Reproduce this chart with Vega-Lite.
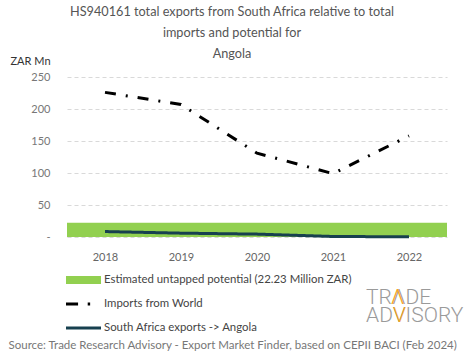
{
  "$schema": "https://vega.github.io/schema/vega-lite/v6.json",
  "autosize": "none",
  "width": 380,
  "height": 160,
  "padding": {"left": 67, "top": 77, "right": 18, "bottom": 122},
  "background": "white",
  "config": {
    "font": "Lato",
    "view": {"stroke": null},
    "axisY": {
      "titleAngle": 0,
      "titleAlign": "left",
      "titleBaseline": "middle",
      "titleAnchor": "end",
      "titleX": -57,
      "titleY": -16,
      "titleFontSize": 11,
      "titleFontWeight": "normal",
      "titleColor": "#333333",
      "labelOverlap": false,
      "labelFontSize": 11,
      "labelColor": "#777777",
      "labelPadding": 17,
      "domain": false,
      "ticks": false,
      "gridColor": "#d9d9d9",
      "gridDash": [4, 3],
      "gridWidth": 1
    }
  },
  "title": {
    "text": ["HS940161 total exports from South Africa relative to total", "imports and potential for", "Angola"],
    "fontSize": 12.7,
    "fontWeight": "normal",
    "color": "#555555",
    "lineHeight": 21,
    "anchor": "middle",
    "dx": -25,
    "dy": 20,
    "offset": 14
  },
  "datasets": {
    "series": [
      {"year": "2018", "series": "Imports from World", "value": 226},
      {"year": "2019", "series": "Imports from World", "value": 207},
      {"year": "2020", "series": "Imports from World", "value": 131},
      {"year": "2021", "series": "Imports from World", "value": 99},
      {"year": "2022", "series": "Imports from World", "value": 158},
      {"year": "2018", "series": "South Africa exports -> Angola", "value": 8.5},
      {"year": "2019", "series": "South Africa exports -> Angola", "value": 6},
      {"year": "2020", "series": "South Africa exports -> Angola", "value": 4.5},
      {"year": "2021", "series": "South Africa exports -> Angola", "value": 0.8},
      {"year": "2022", "series": "South Africa exports -> Angola", "value": 0.3}
    ],
    "potential": [
      {"series": "Estimated untapped potential (22.23 Million ZAR)", "low": 0, "high": 22.23}
    ],
    "logo": [
      {"year": "2022", "line": "TRΛDE", "accent": "Λ", "pos": -96},
      {"year": "2022", "line": "ADVISORY", "accent": "V", "pos": -124}
    ]
  },
  "layer": [
    {
      "data": {"name": "potential"},
      "mark": {"type": "rect"},
      "encoding": {
        "y": {"field": "low", "type": "quantitative", "scale": {"domain": [0, 250], "nice": false},
          "axis": {"title": "ZAR Mn", "values": [0, 50, 100, 150, 200, 250], "tickCount": 6, "labelExpr": "datum.value === 0 ? '-' : datum.label"}},
        "y2": {"field": "high"},
        "color": {"field": "series", "type": "nominal"}
      }
    },
    {
      "data": {"name": "series"},
      "mark": {"type": "line", "strokeWidth": 3},
      "encoding": {
        "x": {
          "field": "year", "type": "ordinal",
          "scale": {"type": "point", "padding": 0.5},
          "axis": {
            "title": "Source: Trade Research Advisory - Export Market Finder, based on CEPII BACI (Feb 2024)",
            "titleFontSize": 11.5,
            "titleFontWeight": "normal",
            "titleColor": "#777777",
            "titleAnchor": "start",
            "titleAlign": "left",
            "titleBaseline": "middle",
            "titleX": -59,
            "titleY": 108,
            "labelAngle": 0,
            "labelFontSize": 11,
            "labelColor": "#666666",
            "labelPadding": 14,
            "domain": false,
            "ticks": false,
            "grid": false
          }
        },
        "y": {
          "field": "value", "type": "quantitative",
          "scale": {"domain": [0, 250], "nice": false},
          "axis": {"title": "ZAR Mn", "values": [0, 50, 100, 150, 200, 250], "tickCount": 6, "labelExpr": "datum.value === 0 ? '-' : datum.label"}
        },
        "color": {
          "field": "series", "type": "nominal",
          "scale": {
            "domain": ["Estimated untapped potential (22.23 Million ZAR)", "Imports from World", "South Africa exports -> Angola"],
            "range": ["#92D050", "#000000", "#17404F"]
          },
          "legend": {
            "title": null,
            "orient": "none",
            "legendX": -1,
            "legendY": 196,
            "direction": "vertical",
            "symbolType": "stroke",
            "symbolSize": 1225,
            "symbolStrokeWidth": 0,
            "labelFontSize": 11.4,
            "labelColor": "#444444",
            "labelOffset": 3,
            "labelLimit": 400,
            "clipHeight": 14,
            "rowPadding": 10,
            "encode": {
              "symbols": {
                "update": {
                  "shape": {"signal": "datum.value === 'Estimated untapped potential (22.23 Million ZAR)' ? 'M-1,-0.23H1V0.23H-1Z' : datum.value === 'Imports from World' ? 'M-1,-0.09H-0.31V0.09H-1Z M0.24,-0.08H0.38V0.08H0.24Z' : 'M-1,-0.09H1V0.09H-1Z'"},
                  "fill": {"signal": "scale('color', datum.value)"},
                  "fillOpacity": {"value": 1},
                  "strokeWidth": {"value": 0}
                }
              }
            }
          }
        },
        "strokeDash": {
          "field": "series", "type": "nominal",
          "scale": {
            "domain": ["Estimated untapped potential (22.23 Million ZAR)", "Imports from World", "South Africa exports -> Angola"],
            "range": [[1, 0], [11, 10, 2, 10], [1, 0]]
          },
          "legend": null
        }
      }
    },
    {
      "data": {"name": "logo"},
      "mark": {"type": "text", "font": "Roboto", "fontWeight": 300, "fontSize": 21, "color": "#9a9a9a", "align": "left", "baseline": "middle", "dx": -43},
      "encoding": {
        "x": {"field": "year", "type": "ordinal"},
        "y": {"field": "pos", "type": "quantitative", "scale": {"domain": [0, 250], "nice": false}},
        "text": {"field": "line"}
      }
    },
    {
      "data": {"name": "logo"},
      "transform": [{"filter": "datum.accent === 'Λ'"}],
      "mark": {"type": "text", "font": "Roboto", "fontWeight": 300, "fontSize": 21, "color": "#F5A623", "align": "center", "baseline": "middle", "dx": -11.5},
      "encoding": {
        "x": {"field": "year", "type": "ordinal"},
        "y": {"field": "pos", "type": "quantitative", "scale": {"domain": [0, 250], "nice": false}},
        "text": {"field": "accent"}
      }
    },
    {
      "data": {"name": "logo"},
      "transform": [{"filter": "datum.accent === 'V'"}],
      "mark": {"type": "text", "font": "Roboto", "fontWeight": 300, "fontSize": 21, "color": "#F5A623", "align": "center", "baseline": "middle", "dx": -9.5},
      "encoding": {
        "x": {"field": "year", "type": "ordinal"},
        "y": {"field": "pos", "type": "quantitative", "scale": {"domain": [0, 250], "nice": false}},
        "text": {"field": "accent"}
      }
    }
  ]
}
